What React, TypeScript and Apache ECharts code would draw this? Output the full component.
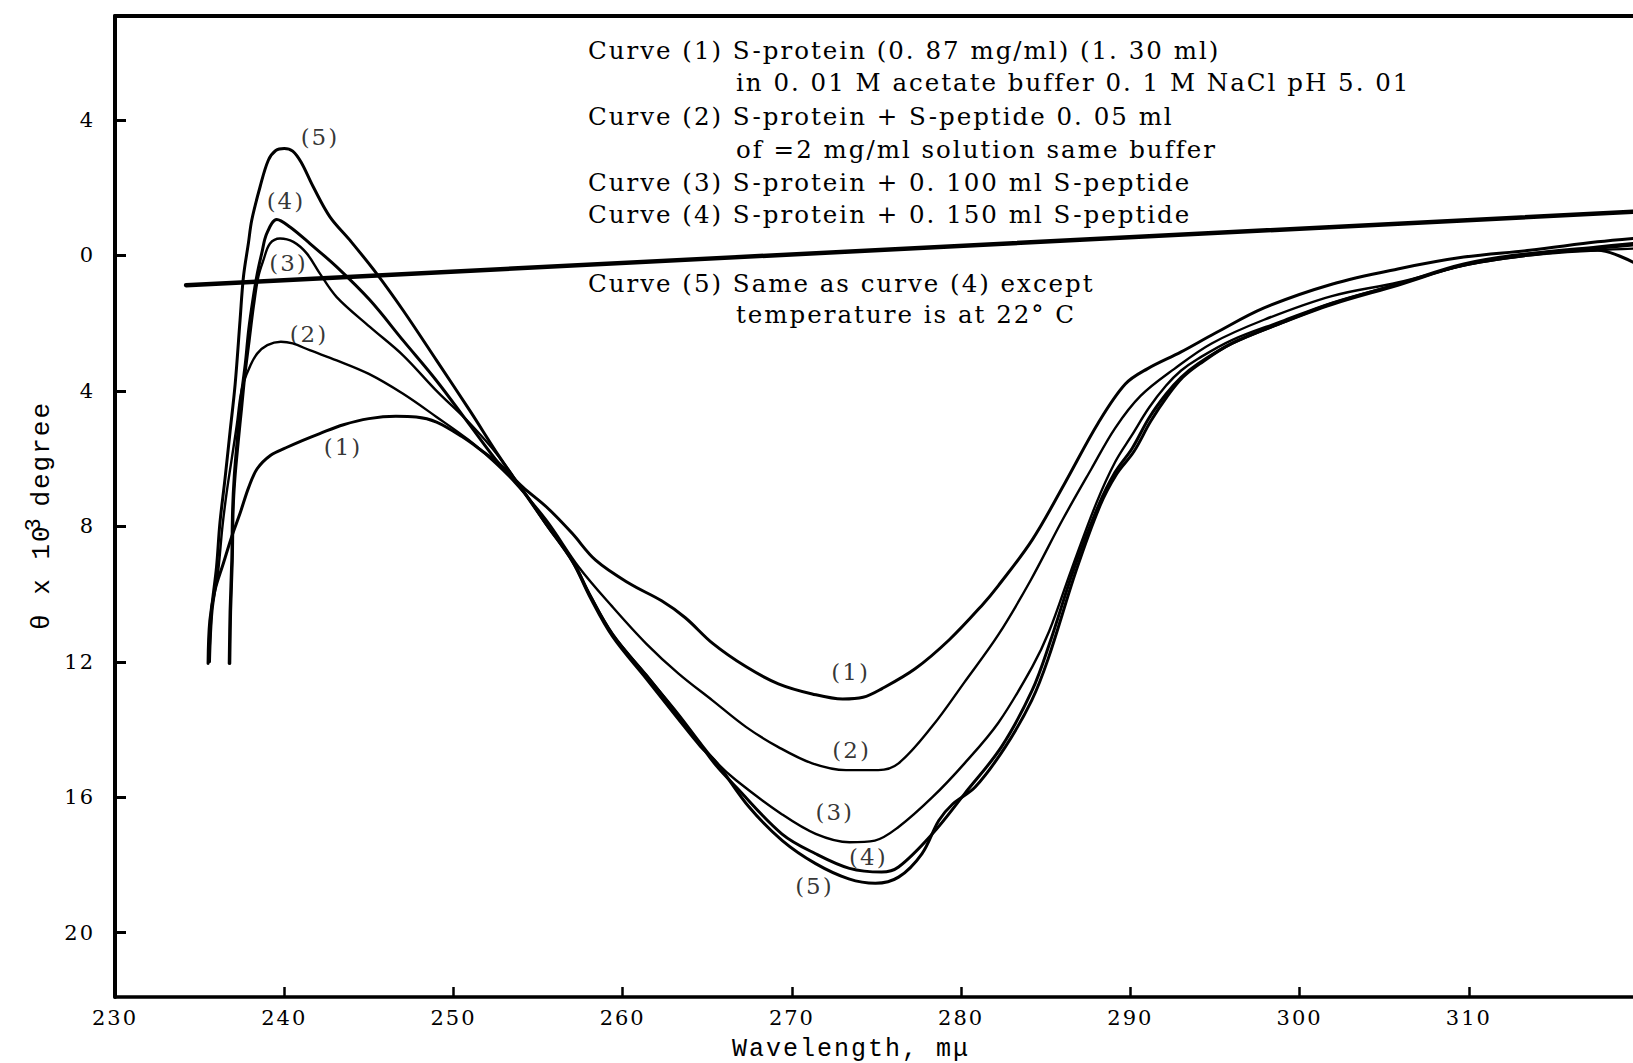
import React, { useEffect, useRef } from "react";
import * as echarts from "echarts";

// ---- data (wavelength in mμ, θ × 10^3 degree; negative is plotted downward) ----
const wavelengthLabels = [230, 240, 250, 260, 270, 280, 290, 300, 310];
const wavelengthTicks = [240, 250, 260, 270, 280, 290, 300, 310];
const thetaTicks = [4, 0, -4, -8, -12, -16, -20];

const baseline: number[][] = [
  [234.2, -0.88],
  [319.7, 1.29],
];

const curve1: number[][] = [
  [235.5, -12.05], [235.6, -10.8], [235.9, -9.9], [236.4, -9.1], [236.9, -8.3], [237.4, -7.6],
  [237.9, -6.85], [238.4, -6.3], [239.2, -5.9], [240.1, -5.68], [241.1, -5.46], [242.1, -5.26],
  [243.5, -5.0], [245.0, -4.82], [246.6, -4.75], [247.8, -4.77], [249.0, -4.92], [250.5, -5.35],
  [251.9, -5.85], [252.7, -6.15], [254.1, -6.84], [255.5, -7.43], [257.0, -8.2], [258.4, -9.0],
  [260.4, -9.69], [262.3, -10.2], [263.7, -10.7], [265.3, -11.45], [267.3, -12.15], [269.2, -12.65],
  [271.2, -12.95], [273.0, -13.1], [274.2, -13.05], [275.3, -12.8], [277.3, -12.2], [279.3, -11.35],
  [281.2, -10.35], [282.2, -9.75], [284.2, -8.4], [286.1, -6.75], [288.1, -4.95], [289.7, -3.8],
  [291.0, -3.35], [293.0, -2.85], [295.0, -2.3], [297.9, -1.55], [301.9, -0.85], [305.8, -0.4],
  [309.7, -0.05], [313.6, 0.15], [317.6, 0.4], [319.7, 0.5],
];

const curve2: number[][] = [
  [235.6, -12.0], [235.75, -10.5], [236.1, -9.3], [236.35, -8.0], [236.6, -7.0], [236.9, -6.0],
  [237.2, -5.0], [237.4, -4.2], [237.6, -3.75], [238.0, -3.25], [238.4, -2.9], [239.0, -2.65],
  [239.8, -2.55], [240.5, -2.6], [241.5, -2.8], [243.1, -3.1], [245.0, -3.5], [247.0, -4.08],
  [249.0, -4.77], [250.9, -5.45], [252.3, -6.05], [253.5, -6.64], [255.5, -7.82], [257.4, -9.2],
  [259.4, -10.38], [261.4, -11.47], [263.3, -12.35], [265.3, -13.14], [267.3, -13.93], [269.2, -14.52],
  [271.2, -15.0], [273.2, -15.2], [275.1, -15.2], [276.3, -15.0], [278.3, -13.9], [280.2, -12.6],
  [282.2, -11.2], [284.1, -9.6], [286.0, -7.8], [287.7, -6.3], [289.1, -5.1], [290.6, -4.15],
  [292.6, -3.35], [294.8, -2.6], [297.9, -1.9], [301.9, -1.2], [305.8, -0.8], [309.7, -0.3],
  [313.6, 0.0], [317.6, 0.15], [319.7, 0.2],
];

const curve3: number[][] = [
  [236.8, -12.05], [236.85, -10.5], [236.95, -9.0], [237.0, -7.5], [237.1, -6.6], [237.3, -5.5],
  [237.5, -4.5], [237.7, -3.5], [237.95, -2.5], [238.2, -1.5], [238.47, -0.63], [238.77, -0.14],
  [239.16, 0.35], [239.75, 0.5], [240.54, 0.4], [241.33, 0.06], [242.1, -0.53], [243.1, -1.23],
  [245.06, -2.11], [247.02, -2.95], [249.0, -4.0], [250.95, -4.95], [252.7, -5.95], [254.1, -6.94],
  [255.5, -7.92], [257.05, -9.0], [258.03, -9.99], [259.4, -11.17], [261.4, -12.4], [263.3, -13.55],
  [264.6, -14.4], [265.5, -14.95], [266.7, -15.5], [269.4, -16.5], [271.4, -17.08], [273.4, -17.33],
  [274.9, -17.28], [276.3, -16.88], [278.3, -16.0], [280.2, -15.0], [282.2, -13.8], [284.2, -12.15],
  [285.2, -11.1], [286.5, -9.3], [288.0, -7.3], [289.1, -6.1], [290.1, -5.3], [291.1, -4.5],
  [292.1, -3.85], [293.0, -3.4], [294.0, -3.05], [296.0, -2.5], [298.9, -1.95], [301.9, -1.4],
  [305.8, -0.85], [309.7, -0.3], [313.6, 0.0], [317.6, 0.2], [319.7, 0.3],
];

const curve4: number[][] = [
  [236.75, -12.05], [236.8, -10.5], [236.9, -9.0], [236.95, -7.5], [237.05, -6.5], [237.25, -5.3],
  [237.45, -4.2], [237.7, -3.2], [237.9, -2.2], [238.15, -1.3], [238.41, -0.53], [238.67, 0.06],
  [238.97, 0.65], [239.56, 1.06], [240.34, 0.84], [241.52, 0.35], [243.1, -0.34], [245.06, -1.32],
  [247.02, -2.51], [249.0, -3.7], [250.95, -5.0], [252.53, -6.05], [254.1, -6.94], [255.5, -7.95],
  [257.05, -9.05], [258.03, -10.0], [259.4, -11.2], [261.4, -12.4], [263.3, -13.6], [264.6, -14.45],
  [265.5, -15.05], [266.7, -15.7], [269.4, -17.08], [271.4, -17.67], [273.4, -18.1], [275.3, -18.21],
  [276.3, -18.06], [278.3, -17.08], [280.2, -15.9], [282.4, -14.5], [284.2, -12.84], [285.2, -11.5],
  [286.7, -9.2], [288.1, -7.4], [289.1, -6.4], [290.1, -5.7], [291.1, -4.8], [292.1, -4.1],
  [293.0, -3.6], [294.0, -3.2], [296.0, -2.6], [298.9, -2.0], [301.9, -1.42], [305.8, -0.85],
  [309.7, -0.25], [313.6, 0.05], [317.6, 0.15], [319.7, -0.2],
];

const curve5: number[][] = [
  [235.55, -12.0], [235.7, -10.5], [236.0, -9.2], [236.2, -7.9], [236.5, -6.6], [236.8, -5.2],
  [237.1, -3.8], [237.39, -1.91], [237.59, -0.63], [237.88, 0.35], [238.08, 1.04], [238.57, 2.02],
  [239.06, 2.81], [239.5, 3.1], [240.0, 3.16], [240.5, 3.08], [241.0, 2.75], [241.72, 2.02],
  [242.7, 1.14], [243.88, 0.45], [245.45, -0.53], [247.02, -1.62], [249.0, -3.1], [250.95, -4.57],
  [252.72, -5.95], [254.1, -6.95], [255.5, -7.95], [257.05, -9.05], [258.03, -10.05], [259.4, -11.25],
  [261.4, -12.5], [263.3, -13.7], [264.6, -14.5], [265.5, -14.95], [267.47, -16.29], [269.43, -17.28],
  [271.4, -17.96], [273.36, -18.41], [274.93, -18.54], [276.3, -18.36], [277.68, -17.67], [278.68, -16.69],
  [279.5, -16.2], [280.83, -15.7], [282.6, -14.52], [284.17, -13.14], [285.15, -11.9], [286.8, -9.3],
  [288.2, -7.4], [289.2, -6.45], [290.2, -5.8], [291.2, -4.9], [292.2, -4.15], [293.1, -3.6],
  [294.1, -3.2], [296.0, -2.6], [298.9, -2.0], [301.9, -1.45], [305.8, -0.88], [309.7, -0.28],
  [313.6, 0.05], [317.6, 0.25], [319.7, 0.35],
];

const curveLabels = [
  { name: "(5)", value: [242.11, 3.51] },
  { name: "(4)", value: [240.1, 1.6] },
  { name: "(3)", value: [240.25, -0.22] },
  { name: "(2)", value: [241.46, -2.33] },
  { name: "(1)", value: [243.47, -5.67] },
  { name: "(1)", value: [273.47, -12.31] },
  { name: "(2)", value: [273.53, -14.62] },
  { name: "(3)", value: [272.53, -16.45] },
  { name: "(4)", value: [274.52, -17.78] },
  { name: "(5)", value: [271.33, -18.61] },
];

const noteLines = [
  "Curve (1) S-protein (0. 87 mg/ml) (1. 30 ml)",
  "in 0. 01 M acetate buffer 0. 1 M NaCl pH 5. 01",
  "Curve (2) S-protein + S-peptide 0. 05 ml",
  "of =2 mg/ml solution same buffer",
  "Curve (3) S-protein + 0. 100 ml S-peptide",
  "Curve (4) S-protein + 0. 150 ml S-peptide",
  "Curve (5) Same as curve (4) except",
  "temperature is at 22° C",
];
const noteIndent = [false, true, false, true, false, false, false, true];
const noteY = [50, 82, 116.5, 149, 182, 214.5, 283, 314.5];

const SERIF = "'DejaVu Serif', 'Liberation Serif', serif";
const MONO = "'Liberation Mono', 'DejaVu Sans Mono', monospace";

export default function App() {
  const ref = useRef<HTMLDivElement>(null);

  useEffect(() => {
    if (!ref.current) return;
    const chart = echarts.init(ref.current, undefined, { renderer: "svg" });

    const lineSeries = (data: number[][], width: number) => ({
      type: "line",
      data,
      smooth: 0.35,
      symbol: "none",
      silent: true,
      lineStyle: { color: "#000", width, cap: "round", join: "round" },
      z: 3,
    });

    const notes = noteLines.map((t, i) => ({
      type: "text",
      x: noteIndent[i] ? 736 : 588,
      y: noteY[i],
      silent: true,
      style: {
        text: t,
        fill: "#000",
        fontSize: 24.5,
        fontFamily: SERIF,
        align: "left",
        verticalAlign: "middle",
      },
    }));

    chart.setOption({
      animation: false,
      backgroundColor: "#fff",
      grid: { left: 115, right: 0, top: 16, bottom: 66, containLabel: false },
      xAxis: [
        {
          type: "value",
          min: 230,
          max: 319.7,
          position: "bottom",
          axisLine: { show: true, onZero: false, lineStyle: { color: "#000", width: 3.5 } },
          axisTick: {
            show: true,
            inside: true,
            length: 10,
            customValues: wavelengthTicks,
            lineStyle: { color: "#000", width: 2.5 },
          },
          axisLabel: {
            customValues: wavelengthLabels,
            margin: 10,
            color: "#000",
            fontSize: 21,
            fontFamily: SERIF,
          },
          splitLine: { show: false },
        },
        {
          type: "value",
          min: 230,
          max: 319.7,
          position: "top",
          axisLine: { show: true, onZero: false, lineStyle: { color: "#000", width: 4 } },
          axisTick: { show: false },
          axisLabel: { show: false },
          splitLine: { show: false },
        },
      ],
      yAxis: {
        type: "value",
        min: -21.9,
        max: 7.07,
        axisLine: { show: true, onZero: false, lineStyle: { color: "#000", width: 4 } },
        axisTick: {
          show: true,
          inside: true,
          length: 11,
          customValues: thetaTicks,
          lineStyle: { color: "#000", width: 3 },
        },
        axisLabel: {
          customValues: thetaTicks,
          formatter: (v: number) => String(Math.abs(v)),
          margin: 20,
          color: "#000",
          fontSize: 21,
          fontFamily: SERIF,
        },
        splitLine: { show: false },
      },
      series: [
        lineSeries(baseline, 4.5),
        lineSeries(curve1, 3),
        lineSeries(curve2, 2.4),
        lineSeries(curve3, 2.4),
        lineSeries(curve4, 3),
        lineSeries(curve5, 3),
        {
          type: "scatter",
          data: curveLabels,
          symbolSize: 1,
          silent: true,
          itemStyle: { color: "rgba(0,0,0,0)" },
          label: {
            show: true,
            position: "inside",
            formatter: "{b}",
            color: "#000",
            fontSize: 23,
            fontFamily: SERIF,
          },
          z: 5,
        },
      ],
      graphic: [
        ...notes,
        {
          type: "text",
          x: 851,
          y: 1049,
          silent: true,
          style: {
            text: "Wavelength, mμ",
            fill: "#000",
            fontSize: 25,
            fontFamily: MONO,
            align: "center",
            verticalAlign: "middle",
          },
        },
        {
          type: "text",
          x: 42,
          y: 516,
          rotation: Math.PI / 2,
          silent: true,
          style: {
            text: "θ x 10{sup|3} degree",
            fill: "#000",
            fontSize: 26,
            lineHeight: 38,
            fontFamily: MONO,
            align: "center",
            verticalAlign: "middle",
            rich: {
              sup: {
                fontSize: 22,
                fontFamily: MONO,
                fill: "#000",
                verticalAlign: "top",
                lineHeight: 24,
              },
            },
          },
        },
      ],
    });

    return () => chart.dispose();
  }, []);

  return (
    <div
      ref={ref}
      style={{
        position: "fixed",
        left: 0,
        top: 0,
        width: 1633,
        height: 1063,
        background: "#fff",
        letterSpacing: "2px",
      }}
    />
  );
}
